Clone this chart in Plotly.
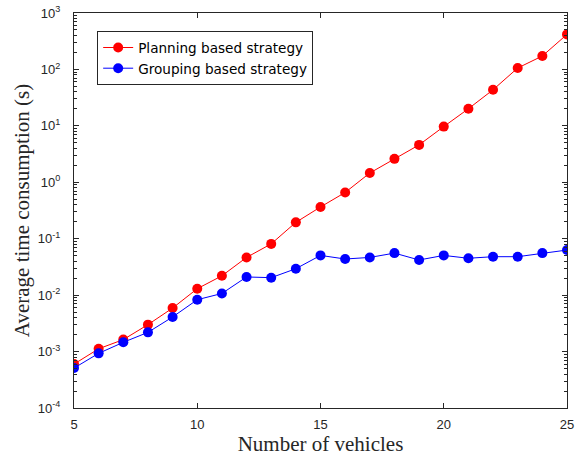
import plotly.graph_objects as go

vehicles = list(range(5, 26))
planning = [6.0e-4, 1.12e-3, 1.63e-3, 3.0e-3, 5.9e-3, 1.3e-2, 2.2e-2, 4.66e-2, 8.1e-2,
            0.195, 0.365, 0.66, 1.46, 2.6, 4.6, 9.7, 20.1, 43.6, 106, 173, 418]
grouping = [5.1e-4, 9.3e-4, 1.46e-3, 2.19e-3, 4.1e-3, 8.3e-3, 1.07e-2, 2.1e-2, 2.04e-2,
            2.94e-2, 5.06e-2, 4.37e-2, 4.66e-2, 5.56e-2, 4.2e-2, 5.06e-2, 4.5e-2, 4.8e-2,
            4.8e-2, 5.56e-2, 6.3e-2]
x_ticks = [5, 10, 15, 20, 25]
y_exponents = [-4, -3, -2, -1, 0, 1, 2, 3]

y_tickvals = [10.0 ** e for e in y_exponents]
y_ticktext = ["10<sup>%d</sup>" % e for e in y_exponents]
y_minor = [m * 10.0 ** e for e in y_exponents[:-1] for m in range(2, 10)]

fig = go.Figure()
fig.add_trace(go.Scatter(x=vehicles, y=planning, mode="lines+markers",
                         name="Planning based strategy",
                         line=dict(color="#ff0000", width=1),
                         marker=dict(color="#ff0000", size=10)))
fig.add_trace(go.Scatter(x=vehicles, y=grouping, mode="lines+markers",
                         name="Grouping based strategy",
                         line=dict(color="#0000ff", width=1),
                         marker=dict(color="#0000ff", size=10)))

axcol = "#262626"
serif = "Liberation Serif, DejaVu Serif, serif"
fig.update_layout(
    width=588, height=457,
    margin=dict(l=74, r=21, t=13, b=49, autoexpand=False),
    paper_bgcolor="white", plot_bgcolor="white",
    font=dict(family="Liberation Sans, Arial", size=13, color=axcol),
    showlegend=True,
    legend=dict(x=0.047, y=0.954, xanchor="left", yanchor="top",
                bgcolor="white", bordercolor="#262626", borderwidth=1,
                font=dict(family="DejaVu Sans, Liberation Sans", size=13.6, color="black"),
                tracegroupgap=0),
)
fig.update_xaxes(
    range=[5, 25], tickvals=x_ticks,
    showgrid=False, zeroline=False, automargin=False,
    showline=True, linecolor=axcol, linewidth=1, mirror="ticks",
    ticks="inside", ticklen=5, tickcolor=axcol, ticklabelstandoff=4,
    tickfont=dict(size=13, color=axcol),
    title=dict(text="Number of vehicles",
               font=dict(family=serif, size=21, color=axcol),
               standoff=1),
)
fig.update_yaxes(
    type="log", range=[-4, 3], tickvals=y_tickvals, ticktext=y_ticktext,
    showgrid=False, zeroline=False, automargin=False,
    showline=True, linecolor=axcol, linewidth=1, mirror="ticks",
    ticks="inside", ticklen=5, tickcolor=axcol, ticklabelstandoff=10,
    minor=dict(tickvals=y_minor, ticks="inside", ticklen=3, tickcolor=axcol, showgrid=False),
    tickfont=dict(size=13, color=axcol),
    title=dict(text="Average time consumption (s)",
               font=dict(family=serif, size=21, color=axcol),
               standoff=2),
)
fig.write_html("out.html", config={"displayModeBar": False},
               post_script="document.body.style.margin='0';")
